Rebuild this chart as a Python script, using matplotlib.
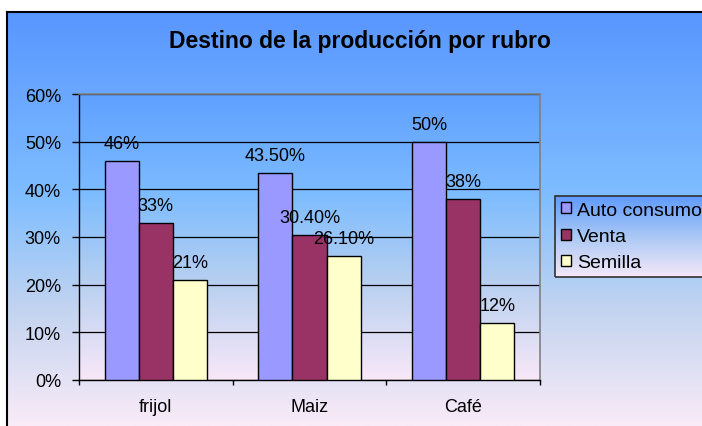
import matplotlib
matplotlib.use('Agg')
import matplotlib.pyplot as plt
import numpy as np
from matplotlib.colors import LinearSegmentedColormap
from matplotlib.lines import Line2D
from matplotlib.patches import Patch

plt.rcParams['font.family'] = ['Liberation Sans', 'DejaVu Sans']

# ---------------- data ----------------
categories = ['frijol', 'Maiz', 'Café']
series_names = ['Auto consumo', 'Venta', 'Semilla']
auto_consumo = [0.46, 0.435, 0.50]
venta = [0.33, 0.304, 0.38]
semilla = [0.21, 0.261, 0.12]
labels_auto = ['46%', '43.50%', '50%']
labels_venta = ['33%', '30.40%', '38%']
labels_semilla = ['21%', '26.10%', '12%']
yticks = [0.0, 0.1, 0.2, 0.3, 0.4, 0.5, 0.6]
ytick_labels = ['0%', '10%', '20%', '30%', '40%', '50%', '60%']
title = 'Destino de la producción por rubro'

colors = ['#9999FF', '#993366', '#FFFFCC']

W, H = 702, 427
fig = plt.figure(figsize=(W / 100, H / 100), dpi=100)
fig.patch.set_facecolor('white')

def fx(px):
    return px / W

def fy(py):
    return 1 - py / H

def gradient(stops):
    cmap = LinearSegmentedColormap.from_list(
        'g', [(p, tuple(c / 255 for c in col)) for p, col in stops])
    return cmap(np.linspace(0, 1, 256))[:, None, :3]

# chart background gradient
bg = fig.add_axes([fx(7), 0, 1 - fx(7), fy(13)], zorder=-10)
bg.imshow(gradient([(0.0, (88, 150, 255)), (0.45, (128, 190, 255)),
                    (0.72, (195, 212, 240)), (1.0, (250, 235, 248))]),
          aspect='auto', extent=[0, 1, 0, 1])
bg.set_axis_off()

# chart border
fig.add_artist(Line2D([fx(7), fx(7)], [0, fy(13)], color='black', lw=1.5))
fig.add_artist(Line2D([fx(7), 1], [fy(13), fy(13)], color='black', lw=1.5))

# plot area
ax = fig.add_axes([fx(79), fy(381), fx(540) - fx(79), fy(95) - fy(381)])
ax.patch.set_visible(False)
ax.imshow(gradient([(0.0, (95, 160, 255)), (0.35, (125, 188, 255)),
                    (0.65, (182, 207, 240)), (1.0, (248, 232, 248))]),
          aspect='auto', extent=[0, 1, 0, 1], transform=ax.transAxes, zorder=-1)

x = np.arange(len(categories))
bw = 1 / 4.5
series = [auto_consumo, venta, semilla]
labels = [labels_auto, labels_venta, labels_semilla]
for i, (vals, labs) in enumerate(zip(series, labels)):
    pos = x + (i - 1) * bw
    ax.bar(pos, vals, width=bw, color=colors[i], edgecolor='black',
           linewidth=1.0, zorder=3, label=series_names[i])
    for p, v, t in zip(pos, vals, labs):
        ax.annotate(t, (p, v), xytext=(0, 12.5), textcoords='offset points',
                    ha='center', va='center', fontsize=13, color='black', zorder=4)

ax.set_xlim(-0.5, 2.5)
ax.set_ylim(0, 0.6)
ax.set_yticks(yticks)
ax.set_yticklabels(ytick_labels, fontsize=13)
ax.set_xticks([-0.5, 0.5, 1.5, 2.5])
ax.set_xticklabels([])
ax.set_xticks(x, minor=True)
ax.set_xticklabels(categories, minor=True, fontsize=13)
ax.tick_params(axis='x', which='minor', length=0, pad=13)
ax.tick_params(axis='x', which='major', length=3.5, width=1, direction='out')
ax.tick_params(axis='y', length=5, width=1, direction='out', pad=8)
ax.grid(axis='y', color='black', linewidth=0.9, zorder=1)
ax.set_axisbelow(True)
for s in ['top', 'right']:
    ax.spines[s].set_color('#808080')
    ax.spines[s].set_linewidth(1.2)
for s in ['left', 'bottom']:
    ax.spines[s].set_color('black')
    ax.spines[s].set_linewidth(1.0)

fig.text(fx(360), fy(48), title, ha='center', va='baseline',
         fontsize=16.5, fontweight='bold')

handles = [Patch(facecolor=c, edgecolor='black', linewidth=1.0) for c in colors]
leg = fig.legend(handles, series_names, loc='upper left',
                 bbox_to_anchor=(fx(555), fy(197)), borderaxespad=0,
                 fontsize=14, handlelength=0.5, handleheight=0.5,
                 handletextpad=0.32, labelspacing=0.47, borderpad=0.3,
                 frameon=True, fancybox=False, edgecolor='#303030',
                 facecolor='none', framealpha=1)
leg.get_frame().set_linewidth(1.2)
fig.canvas.draw()
bb = leg.get_frame().get_window_extent().transformed(fig.transFigure.inverted())
lax = fig.add_axes([bb.x0, bb.y0, bb.width, bb.height], zorder=-5)
lax.imshow(gradient([(0.0, (95, 155, 255)), (0.5, (170, 200, 245)),
                     (1.0, (245, 232, 248))]), aspect='auto', extent=[0, 1, 0, 1])
lax.set_axis_off()

fig.savefig('out.png', dpi=100, facecolor='white')
